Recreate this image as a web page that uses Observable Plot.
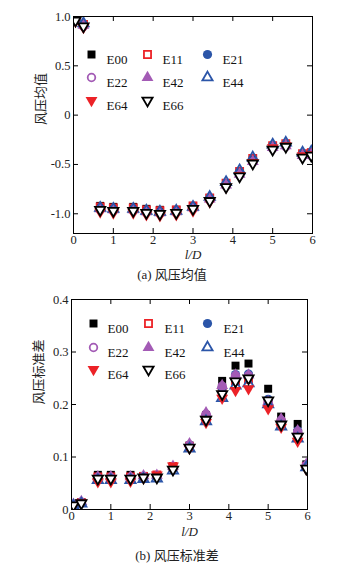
<!DOCTYPE html>
<html><head><meta charset="utf-8">
<script src="https://cdn.jsdelivr.net/npm/d3@7"></script>
<script src="https://cdn.jsdelivr.net/npm/@observablehq/plot@0.6"></script>
<style>
body{margin:0;background:#fff;}
#wrap{position:relative;width:356px;height:565px;font-family:'Liberation Serif','Noto Sans CJK SC',serif;}
#wrap svg{position:absolute;left:0;}
.cap{position:absolute;font-size:13px;line-height:16px;text-align:center;color:#222;white-space:nowrap;}
</style></head><body><div id="wrap"></div>
<script>
// ---- data ----
const seriesNames = ["E00","E11","E21","E22","E42","E44","E64","E66"];
const xPos = [0.05, 0.25, 0.67, 1.0, 1.5, 1.83, 2.17, 2.58, 3.0, 3.42, 3.83, 4.17, 4.5, 5.0, 5.33, 5.75, 5.97];

const mean_E00 = [0.98, 0.92, -0.92, -0.93, -0.93, -0.95, -0.96, -0.96, -0.92, -0.84, -0.70, -0.58, -0.45, -0.32, -0.30, -0.40, -0.38];
const mean_E11 = [0.97, 0.92, -0.93, -0.94, -0.94, -0.96, -0.97, -0.96, -0.92, -0.84, -0.69, -0.57, -0.44, -0.31, -0.29, -0.39, -0.38];
const mean_E21 = [0.97, 0.91, -0.95, -0.96, -0.96, -0.98, -0.99, -0.98, -0.94, -0.85, -0.70, -0.59, -0.46, -0.33, -0.31, -0.41, -0.40];
const mean_E22 = [0.96, 0.90, -0.96, -0.97, -0.97, -0.99, -1.00, -0.99, -0.95, -0.86, -0.72, -0.61, -0.48, -0.34, -0.32, -0.42, -0.41];
const mean_E42 = [0.97, 0.91, -0.95, -0.96, -0.96, -0.98, -0.99, -0.98, -0.94, -0.85, -0.71, -0.60, -0.47, -0.33, -0.31, -0.41, -0.40];
const mean_E44 = [0.98, 0.93, -0.94, -0.95, -0.95, -0.97, -0.98, -0.97, -0.93, -0.83, -0.68, -0.56, -0.43, -0.30, -0.28, -0.38, -0.37];
const mean_E64 = [0.95, 0.89, -0.98, -0.99, -0.99, -1.01, -1.02, -1.01, -0.97, -0.88, -0.73, -0.61, -0.48, -0.33, -0.31, -0.41, -0.40];
const mean_E66 = [0.96, 0.90, -0.96, -0.97, -0.97, -0.99, -1.00, -0.99, -0.95, -0.87, -0.73, -0.62, -0.49, -0.35, -0.32, -0.43, -0.41];

const std_E00 = [0.010, 0.014, 0.066, 0.066, 0.066, 0.064, 0.065, 0.080, 0.122, 0.180, 0.245, 0.274, 0.278, 0.230, 0.177, 0.163, 0.086];
const std_E11 = [0.009, 0.013, 0.062, 0.062, 0.062, 0.063, 0.066, 0.082, 0.120, 0.175, 0.225, 0.245, 0.248, 0.205, 0.165, 0.145, 0.082];
const std_E21 = [0.009, 0.014, 0.060, 0.060, 0.060, 0.062, 0.064, 0.080, 0.121, 0.178, 0.232, 0.257, 0.258, 0.210, 0.168, 0.150, 0.084];
const std_E22 = [0.009, 0.014, 0.061, 0.061, 0.061, 0.063, 0.064, 0.080, 0.123, 0.182, 0.235, 0.255, 0.255, 0.205, 0.170, 0.148, 0.084];
const std_E42 = [0.010, 0.015, 0.062, 0.062, 0.062, 0.064, 0.065, 0.082, 0.125, 0.184, 0.236, 0.256, 0.256, 0.205, 0.172, 0.150, 0.086];
const std_E44 = [0.007, 0.011, 0.056, 0.056, 0.056, 0.058, 0.059, 0.074, 0.116, 0.168, 0.212, 0.236, 0.240, 0.200, 0.158, 0.135, 0.080];
const std_E64 = [0.008, 0.013, 0.053, 0.053, 0.054, 0.060, 0.066, 0.083, 0.117, 0.166, 0.212, 0.227, 0.230, 0.192, 0.157, 0.130, 0.077];
const std_E66 = [0.008, 0.012, 0.059, 0.059, 0.059, 0.061, 0.061, 0.076, 0.118, 0.171, 0.220, 0.244, 0.250, 0.208, 0.162, 0.139, 0.078];

const xTicks = [0, 1, 2, 3, 4, 5, 6];
const meanTicks = [1.0, 0.5, 0, -0.5, -1.0];
const stdTicks = [0, 0.1, 0.2, 0.3, 0.4];
const meanLabel = "风压均值";
const stdLabel = "风压标准差";
const xLabel = "l/D";
const captionA = "(a) 风压均值";
const captionB = "(b) 风压标准差";

// ---- styles ----
const RED = "#ec2227", BLUE = "#2b55a8", PURPLE = "#a35bb5";
const sty = {
  E00: {symbol: "square", fill: "#000", stroke: "none", sw: 0, rot: 0, r: 4.5},
  E11: {symbol: "square", fill: "none", stroke: RED, sw: 1.8, rot: 0, r: 4},
  E21: {symbol: "circle", fill: BLUE, stroke: "none", sw: 0, rot: 0, r: 4.6},
  E22: {symbol: "circle", fill: "none", stroke: PURPLE, sw: 1.8, rot: 0, r: 3.8},
  E42: {symbol: "triangle", fill: PURPLE, stroke: "none", sw: 0, rot: 0, r: 4.4},
  E44: {symbol: "triangle", fill: "none", stroke: BLUE, sw: 1.8, rot: 0, r: 3.8},
  E64: {symbol: "triangle", fill: RED, stroke: "none", sw: 0, rot: 180, r: 4.4},
  E66: {symbol: "triangle", fill: "white", stroke: "#000", sw: 1.8, rot: 180, r: 3.8}
};

const meanData = {E00: mean_E00, E11: mean_E11, E21: mean_E21, E22: mean_E22, E42: mean_E42, E44: mean_E44, E64: mean_E64, E66: mean_E66};
const stdData = {E00: std_E00, E11: std_E11, E21: std_E21, E22: std_E22, E42: std_E42, E44: std_E44, E64: std_E64, E66: std_E66};

const fmt = d => d === 0 ? "0" : d.toFixed(1);
const FONT = "'Liberation Serif','Noto Sans CJK SC',serif";

function chart({data, yDomain, yTicks, ml, mr, mt, mb, height, ylab, legPos, xlabDy}) {
  const width = 356;
  const W = width - ml - mr, H = height - mt - mb;
  const marks = [];
  // inward ticks on all four sides
  marks.push(Plot.tickY(yTicks, {y: d => d, insetRight: W - 5, stroke: "#000"}));
  marks.push(Plot.tickY(yTicks, {y: d => d, insetLeft: W - 5, stroke: "#000"}));
  marks.push(Plot.tickX(xTicks, {x: d => d, insetBottom: H - 5, stroke: "#000"}));
  marks.push(Plot.tickX(xTicks, {x: d => d, insetTop: H - 5, stroke: "#000"}));
  seriesNames.forEach((s, si) => {
    const st = sty[s];
    const rows = xPos.map((x, i) => ({x, y: data[s][i]}));
    marks.push(Plot.dot(rows, {x: "x", y: "y", symbol: st.symbol, r: st.r, fill: st.fill, stroke: st.stroke, strokeWidth: st.sw, rotate: st.rot, clip: true}));
    // legend
    const col = si % 3, row = Math.floor(si / 3);
    marks.push(Plot.dot([s], {frameAnchor: "top-left", dx: legPos.mx[col], dy: legPos.ry[row], symbol: st.symbol, r: st.r, fill: st.fill === "none" ? "white" : st.fill, stroke: st.stroke, strokeWidth: st.sw, rotate: st.rot}));
    marks.push(Plot.text([s], {frameAnchor: "top-left", dx: legPos.tx[col], dy: legPos.ry[row], text: d => d, textAnchor: "start", fontSize: 13, fill: "#111"}));
  });
  marks.push(Plot.frame({stroke: "#000", strokeWidth: 1}));
  marks.push(Plot.text([xLabel], {frameAnchor: "bottom", dy: xlabDy, text: d => d, fontStyle: "italic", fontSize: 13, fill: "#222"}));
  marks.push(Plot.text([ylab], {frameAnchor: "left", dx: -33, rotate: -90, text: d => d, fontSize: 13, fill: "#222"}));
  return Plot.plot({
    width, height,
    marginLeft: ml, marginRight: mr, marginTop: mt, marginBottom: mb,
    style: {fontFamily: FONT, fontSize: "12.5px", color: "#222", background: "white", overflow: "visible"},
    x: {domain: [0, 6], ticks: xTicks, tickFormat: d => String(d), tickSize: 0, tickPadding: 2, label: null},
    y: {domain: yDomain, ticks: yTicks, tickFormat: fmt, tickSize: 0, tickPadding: 3, label: null},
    marks
  });
}

const wrap = document.getElementById("wrap");
const c1 = chart({
  data: meanData, yDomain: [-1.2, 1.0], yTicks: meanTicks,
  ml: 73, mr: 44, mt: 16, mb: 29, height: 262, ylab: meanLabel,
  legPos: {mx: [18, 74, 134], tx: [33, 89, 149], ry: [38, 61, 84]}, xlabDy: 25
});
c1.style.top = "0px";
wrap.appendChild(c1);

const capA = document.createElement("div");
capA.className = "cap"; capA.textContent = captionA;
capA.style.top = "267px"; capA.style.left = "0px"; capA.style.width = "344px";
wrap.appendChild(capA);

const c2 = chart({
  data: stdData, yDomain: [0, 0.4], yTicks: stdTicks,
  ml: 71, mr: 49, mt: 14, mb: 30, height: 254, ylab: stdLabel,
  legPos: {mx: [22, 77, 136], tx: [36, 93, 152], ry: [24, 48, 70]}, xlabDy: 26
});
c2.style.top = "285px";
wrap.appendChild(c2);

const capB = document.createElement("div");
capB.className = "cap"; capB.textContent = captionB;
capB.style.top = "548px"; capB.style.left = "0px"; capB.style.width = "354px";
wrap.appendChild(capB);
</script>
</body></html>
